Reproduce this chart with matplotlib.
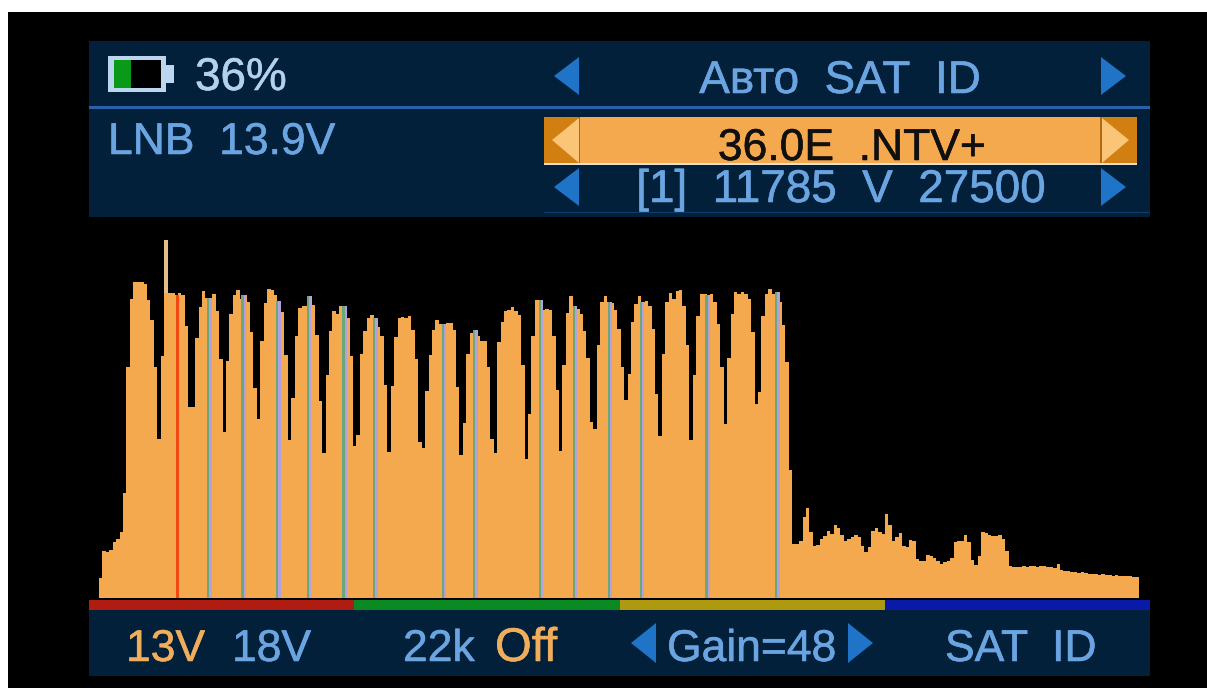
# -*- coding: utf-8 -*-
import matplotlib
matplotlib.use("Agg")
import matplotlib.pyplot as plt
from matplotlib.patches import Rectangle, Polygon
import matplotlib.patheffects as pe

plt.rcParams['font.family'] = ['Liberation Sans', 'DejaVu Sans']

# niveau du signal par canal (gauche a droite)
levels_low = [20, 47, 46, 48, 56, 59, 66, 105, 231, 299, 316, 316, 316, 314, 298, 278, 231, 159,
              242, 358, 305, 305, 303, 305, 303, 272, 191, 191, 260, 291, 307, 300, 300, 304, 287,
              239, 166, 237, 284, 303, 308, 299, 303, 296, 266, 210, 179, 257, 295, 309, 308, 303,
              297, 286, 243, 158, 200, 262, 290, 292, 292, 302, 293, 263, 197, 145, 223, 267, 287,
              284, 292, 292, 280, 242, 152, 163, 244, 267, 280, 283, 280, 271, 262, 213, 146, 212,
              261, 280, 281, 280, 282, 268, 239, 156, 150, 207, 243, 268, 278, 274, 274, 275, 275]
levels_mid = [268, 211, 143, 175, 244, 265, 268, 262, 257, 257, 231, 159, 145, 256, 276, 287, 288,
              291, 287, 283, 233, 139, 184, 262, 298, 298, 288, 289, 288, 262, 208, 147, 233, 285,
              302, 292, 289, 284, 267, 240, 176, 169, 253, 296, 302, 296, 295, 288, 269, 231, 198,
              224, 276, 294, 302, 296, 297, 292, 269, 204, 162, 244, 296, 305, 299, 307, 308, 292,
              253, 158, 223, 282, 304, 304, 303, 304, 296, 274, 231, 174, 240, 284, 306, 304, 306,
              304, 299, 266, 194, 206, 282, 304, 309, 304, 306, 296, 273, 236, 128]
levels_high = [54, 54, 57, 81, 90, 66, 52, 53, 59, 62, 67, 64, 73, 70, 63, 57, 59, 61, 63, 61, 52,
               46, 51, 67, 70, 66, 64, 84, 73, 57, 61, 65, 52, 51, 58, 57, 39, 37, 37, 43, 42, 40,
               37, 34, 36, 37, 40, 56, 57, 57, 63, 56, 38, 33, 42, 66, 65, 63, 62, 62, 63, 59, 47,
               32, 31, 31, 31, 32, 31, 32, 32, 31, 32, 32, 31, 31, 30, 34, 28, 27, 27, 26, 26, 25,
               26, 25, 24, 24, 24, 23, 24, 23, 23, 22, 23, 22, 22, 22, 22, 21, 21]
spectrum = levels_low + levels_mid + levels_high

# canal du transpondeur courant et canaux des transpondeurs trouves
current_bin = 22.9
spike_bin = 19
spike_base = 305
tp_bins = [32.1, 42.1, 52.2, 61.2, 71.6, 80.5, 100.5, 109.6, 128.8, 138.7, 148.9, 158.2, 177.4, 197.6]

strip_colors = ['#b01c12', '#0a8a22', '#ae9a10', '#0a1aa8']

W, H = 1207, 688
BAR = '#f5a94e'
PANEL = '#02203a'
BLUE_TXT = '#6aa5e2'
ORANGE_TXT = '#f0ae5c'
ARROW = '#1f74c8'

fig = plt.figure(figsize=(W / 100, H / 100), dpi=100, facecolor='white')

ui = fig.add_axes([0, 0, 1, 1])
ui.set_xlim(0, W)
ui.set_ylim(H, 0)
ui.axis('off')


def box(x0, y0, x1, y1, color):
    ui.add_patch(Rectangle((x0, y0), x1 - x0, y1 - y0, facecolor=color, edgecolor='none'))


def label(x, y, s, color=BLUE_TXT, size=32, ha='left'):
    t = ui.text(x, y, s, color=color, fontsize=size, ha=ha, va='baseline')
    t.set_path_effects([pe.withStroke(linewidth=0.4, foreground=color)])


def arrow(x, y, d, color=ARROW, half=19):
    # d = -1 vers la gauche, 1 vers la droite
    w = 25
    ui.add_patch(Polygon([(x, y), (x - d * w, y - half), (x - d * w, y + half)], closed=True,
                         facecolor=color, edgecolor='none'))


box(8, 12, W, H, 'black')
box(89, 41, 1150, 217, PANEL)
box(89, 610, 1150, 676, PANEL)
box(89, 105.5, 1150, 109, '#2a62a8')
box(544, 211.5, 1150, 213, '#0e3c66')

# barres de couleur sous le spectre
strip_w = (1150 - 89) / len(strip_colors)
for i, c in enumerate(strip_colors):
    box(89 + i * strip_w, 600, 89 + (i + 1) * strip_w, 610, c)

# batterie
box(108, 56, 166, 92, '#bcd6f0')
box(114, 60, 161, 88, 'black')
box(114, 60, 131, 88, '#0a9a1a')
box(166, 65, 174, 83, '#bcd6f0')
label(195, 90, '36%', color='#b4d0ee', size=33)

label(108, 154, 'LNB  13.9V')
label(840, 93, 'Авто  SAT  ID', size=33, ha='center')

# ligne selectionnee
box(544, 117, 1137, 163, BAR)
box(544, 117, 579, 163, '#d07f10')
box(1101, 117, 1137, 163, '#d07f10')
box(544, 163, 1137, 165, '#e8e0d0')
box(578, 117, 580, 163, '#b06a10')
box(1100, 117, 1102, 163, '#b06a10')
ui.add_patch(Polygon([(552, 140), (579, 118), (579, 163)], closed=True, facecolor='#fbc577', edgecolor='none'))
ui.add_patch(Polygon([(1129, 140), (1102, 118), (1102, 163)], closed=True, facecolor='#fbc577', edgecolor='none'))
label(852, 160, '36.0E  .NTV+', color='#101010', ha='center')
label(841, 202, '[1]  11785  V  27500', size=33, ha='center')

arrow(554, 76, -1)
arrow(1126, 76, 1)
arrow(554, 187, -1)
arrow(1126, 187, 1)

# bas de l'ecran
label(126, 661, '13V', color=ORANGE_TXT)
label(232, 661, '18V')
label(403, 661, '22k')
label(495, 661, 'Off', color=ORANGE_TXT, size=34)
label(667, 661, 'Gain=48')
label(945, 661, 'SAT  ID')
arrow(631, 643, -1, half=20)
arrow(873, 643, 1, half=20)

# spectre
ax = fig.add_axes([99 / W, 1 - 598 / H, 1040 / W, 358 / H])
ax.patch.set_alpha(0)
ax.set_xlim(0, len(spectrum))
ax.set_ylim(0, 358)
ax.axis('off')
ax.bar(range(len(spectrum)), spectrum, width=1.0, align='edge', color=BAR, linewidth=0)
ax.bar(spike_bin, spectrum[spike_bin] - spike_base, bottom=spike_base, width=1.0, align='edge',
       color='#e6bd84', linewidth=0)
for b in tp_bins:
    h = spectrum[int(b)]
    ax.bar(b - 0.7, h, width=0.7, align='edge', color='#6aa87c', linewidth=0)
    ax.bar(b, h, width=0.7, align='edge', color='#b4a0de', linewidth=0)
ax.bar(current_bin, spectrum[int(current_bin)], width=1.0, align='center', color='#f04a12', linewidth=0)

fig.savefig('out.png', dpi=100, facecolor=fig.get_facecolor())
